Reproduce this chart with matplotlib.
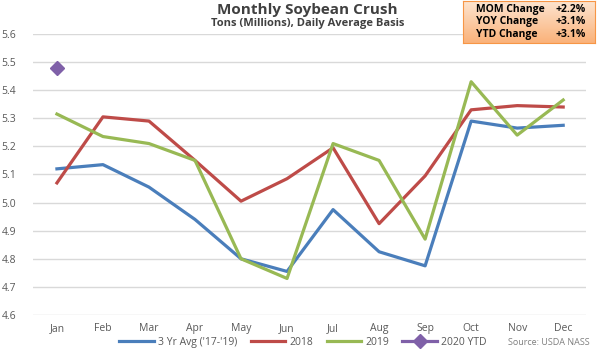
import numpy as np
import matplotlib.pyplot as plt
from matplotlib.lines import Line2D
from matplotlib.colors import LinearSegmentedColormap

plt.rcParams['font.family'] = ['Open Sans', 'DejaVu Sans']

months = ["Jan", "Feb", "Mar", "Apr", "May", "Jun", "Jul", "Aug", "Sep", "Oct", "Nov", "Dec"]
avg_3yr = [5.12, 5.135, 5.055, 4.94, 4.80, 4.755, 4.975, 4.825, 4.775, 5.29, 5.265, 5.275]
y2018 = [5.07, 5.305, 5.29, 5.15, 5.005, 5.085, 5.195, 4.925, 5.095, 5.33, 5.345, 5.34]
y2019 = [5.315, 5.235, 5.21, 5.15, 4.80, 4.73, 5.21, 5.15, 4.87, 5.43, 5.24, 5.365]
y2020 = [5.48]
box_labels = ["MOM Change", "YOY Change", "YTD Change"]
box_values = ["+2.2%", "+3.1%", "+3.1%"]

fig = plt.figure(figsize=(6, 3.5), dpi=100)
ax = fig.add_axes([0.055, 0.10, 0.922, 0.803])

x = np.arange(len(months))
ax.plot(x, avg_3yr, color="#4A7EBB", lw=2.3)
ax.plot(x, y2018, color="#BE4B48", lw=2.3)
ax.plot(x, y2019, color="#98B954", lw=2.3)
ax.plot(x[:len(y2020)], y2020, color="#7F60A8", marker="D", ms=7, lw=2.3, ls="none")

ax.set_xlim(-0.52, 11.5)
ax.set_ylim(4.6, 5.6)
ax.set_yticks(np.arange(4.6, 5.61, 0.1))
ax.yaxis.set_major_formatter(plt.FormatStrFormatter("%.1f"))
ax.set_xticks(x)
ax.set_xticklabels(months)
ax.grid(axis="y", color="#D9D9D9", lw=1)
ax.set_axisbelow(True)
for s in ax.spines.values():
    s.set_visible(False)
ax.tick_params(length=0, labelsize=7.5, colors="#595959", pad=6)
ax.tick_params(axis="y", pad=12)

fig.text(0.513, 0.972, "Monthly Soybean Crush", ha="center", va="center",
         fontsize=11, fontweight="bold", color="#404040")
fig.text(0.513, 0.932, "Tons (Millions), Daily Average Basis", ha="center", va="center",
         fontsize=8, fontweight="bold", color="#404040")

# change box with orange gradient
bax = fig.add_axes([0.772, 0.878, 0.22, 0.12])
grad = np.linspace(0, 1, 50)[:, None]
bax.imshow(grad, aspect="auto", cmap=LinearSegmentedColormap.from_list("o", ["#FDE4CF", "#FAB27A"]),
           extent=[0, 1, 0, 1], origin="upper")
bax.set_xlim(0, 1)
bax.set_ylim(0, 1)
bax.set_xticks([])
bax.set_yticks([])
for s in bax.spines.values():
    s.set_color("#F79646")
for i, (lab, val) in enumerate(zip(box_labels, box_values)):
    yy = 0.8 - i * 0.3
    bax.text(0.1, yy, lab, fontsize=7.5, fontweight="bold", va="center", color="black")
    bax.text(0.93, yy, val, fontsize=7.5, fontweight="bold", va="center", ha="right", color="black")

handles = [
    Line2D([], [], color="#4A7EBB", lw=2.3),
    Line2D([], [], color="#BE4B48", lw=2.3),
    Line2D([], [], color="#98B954", lw=2.3),
    Line2D([], [], color="#7F60A8", lw=2.3, marker="D", ms=7),
]
fig.legend(handles, ["3 Yr Avg ('17-'19)", "2018", "2019", "2020 YTD"], loc="center",
           bbox_to_anchor=(0.505, 0.022), ncol=4, frameon=False, fontsize=7.5,
           handlelength=3.3, handletextpad=0.4, columnspacing=1.3, labelcolor="#595959",
           borderpad=0.1)
fig.text(0.915, 0.022, "Source: USDA NASS", ha="center", va="center", fontsize=6.5, color="#7F7F7F")

fig.savefig("out.png", dpi=100)
